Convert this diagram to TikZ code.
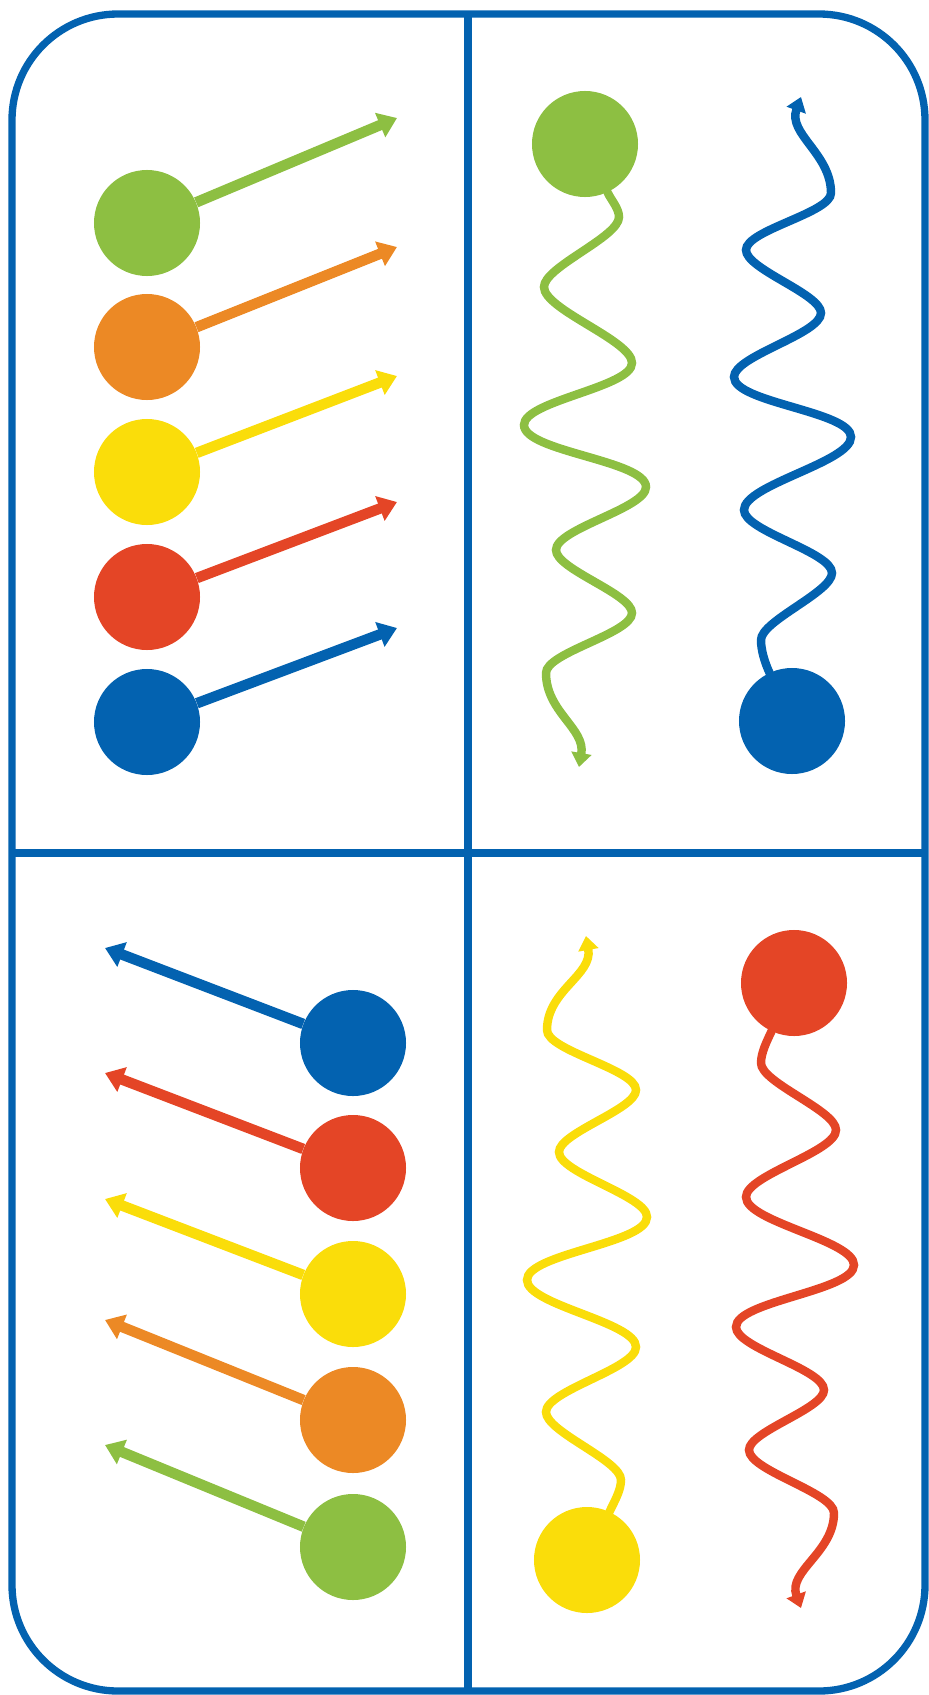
\documentclass[tikz,border=0pt]{standalone}
\usetikzlibrary{arrows.meta}

\definecolor{cgreen}{HTML}{8DBF42}
\definecolor{corange}{HTML}{EC8925}
\definecolor{cyellow}{HTML}{FADD0A}
\definecolor{cred}{HTML}{E44526}
\definecolor{cblue}{HTML}{0362B0}

\begin{document}
\begin{tikzpicture}[x=0.025cm, y=-0.025cm,
        ball/.style={circle, inner sep=0pt, minimum size=2.65cm},
        shot/.style={line width=7.5pt, -{Triangle[length=13pt, width=18pt]}},
        wave/.style={line width=6pt, line cap=round, looseness=0.5, -{Triangle[length=10pt, width=14pt]}},
        frame/.style={line width=5.2pt, draw=cblue}]

        \useasboundingbox (0,0) rectangle (928,1695);

        % Frame
        \draw[frame, rounded corners=2.65cm] (12,14) rectangle (925,1691);
        \draw[frame] (468,14) -- (468,1691);
        \draw[frame] (12,853) -- (925,853);

        % Top left: balls shot up to the right
        \node[ball, fill=cgreen] (tlg) at (147,223) {};
        \node[ball, fill=corange] (tlo) at (147,347) {};
        \node[ball, fill=cyellow] (tly) at (147,472) {};
        \node[ball, fill=cred] (tlr) at (147,597) {};
        \node[ball, fill=cblue] (tlb) at (147,722) {};
        \coordinate (tlgtip) at (397,118);
        \coordinate (tlotip) at (397,247);
        \coordinate (tlytip) at (397,376);
        \coordinate (tlrtip) at (397,502);
        \coordinate (tlbtip) at (397,628);
        \draw[shot, cgreen] (tlg) -- (tlgtip);
        \draw[shot, corange] (tlo) -- (tlotip);
        \draw[shot, cyellow] (tly) -- (tlytip);
        \draw[shot, cred] (tlr) -- (tlrtip);
        \draw[shot, cblue] (tlb) -- (tlbtip);

        % Top right: green wave down, blue wave up
        \node[ball, fill=cgreen] (trg) at (585,144) {};
        \coordinate (trgtip) at (579,767);
        \draw[wave, cgreen] (trg) to[out=-65, in=90, looseness=0.8] (619,217)
            to[out=-90, in=90] (544,287) to[out=-90, in=90] (632,363)
            to[out=-90, in=90] (524,425) to[out=-90, in=90] (646,487)
            to[out=-90, in=90] (556,550) to[out=-90, in=90] (632,613)
            to[out=-90, in=90] (546,673) to[out=-90, in=80, looseness=1] (trgtip);

        \node[ball, fill=cblue] (trb) at (792,721) {};
        \coordinate (trbtip) at (801,97);
        \draw[wave, cblue] (trb) to[out=115, in=-90, looseness=0.8] (761,640)
            to[out=90, in=-90] (832,573) to[out=90, in=-90] (744,510)
            to[out=90, in=-90] (851,437) to[out=90, in=-90] (734,377)
            to[out=90, in=-90] (821,313) to[out=90, in=-90] (746,250)
            to[out=90, in=-90] (831,193) to[out=90, in=-110, looseness=1] (trbtip);

        % Bottom left: balls shot up to the left
        \node[ball, fill=cblue] (blb) at (353,1043) {};
        \node[ball, fill=cred] (blr) at (353,1168) {};
        \node[ball, fill=cyellow] (bly) at (353,1294) {};
        \node[ball, fill=corange] (blo) at (353,1420) {};
        \node[ball, fill=cgreen] (blg) at (353,1547) {};
        \coordinate (blbtip) at (105,948);
        \coordinate (blrtip) at (105,1073);
        \coordinate (blytip) at (105,1199);
        \coordinate (blotip) at (105,1320);
        \coordinate (blgtip) at (105,1445);
        \draw[shot, cblue] (blb) -- (blbtip);
        \draw[shot, cred] (blr) -- (blrtip);
        \draw[shot, cyellow] (bly) -- (blytip);
        \draw[shot, corange] (blo) -- (blotip);
        \draw[shot, cgreen] (blg) -- (blgtip);

        % Bottom right: yellow wave up, red wave down
        \node[ball, fill=cyellow] (bry) at (587,1560) {};
        \coordinate (brytip) at (586,936);
        \draw[wave, cyellow] (bry) to[out=65, in=-90, looseness=0.8] (621,1480)
            to[out=90, in=-90] (546,1412) to[out=90, in=-90] (636,1347)
            to[out=90, in=-90] (527,1280) to[out=90, in=-90] (647,1217)
            to[out=90, in=-90] (559,1152) to[out=90, in=-90] (636,1090)
            to[out=90, in=-90] (547,1030) to[out=90, in=-80, looseness=1] (brytip);

        \node[ball, fill=cred] (brr) at (794,983) {};
        \coordinate (brrtip) at (801,1608);
        \draw[wave, cred] (brr) to[out=-115, in=90, looseness=0.8] (761,1063)
            to[out=-90, in=90] (836,1130) to[out=-90, in=90] (746,1197)
            to[out=-90, in=90] (854,1265) to[out=-90, in=90] (736,1327)
            to[out=-90, in=90] (824,1390) to[out=-90, in=90] (749,1450)
            to[out=-90, in=90] (834,1513) to[out=-90, in=110, looseness=1] (brrtip);

\end{tikzpicture}
\end{document}
